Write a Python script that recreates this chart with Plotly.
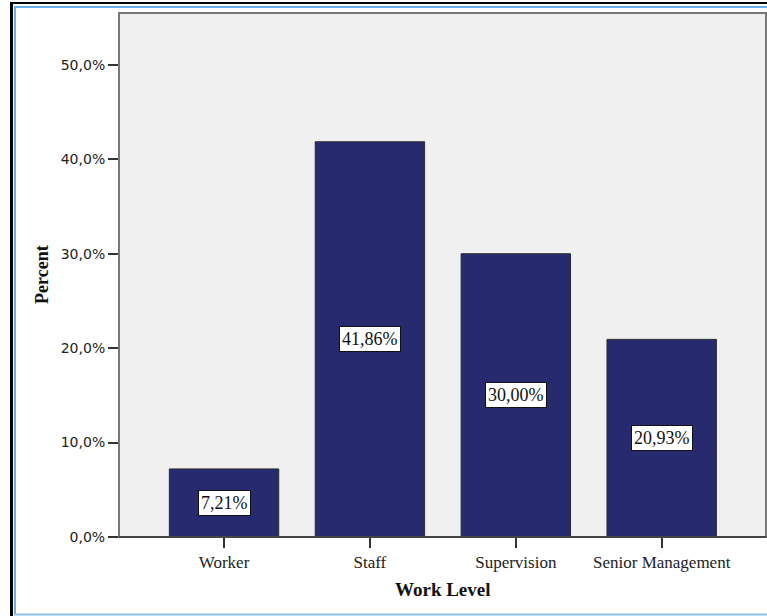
import plotly.graph_objects as go

# Work level distribution (percent of respondents)
levels = ["Worker", "Staff", "Supervision", "Senior Management"]
percents = [7.21, 41.86, 30.00, 20.93]
y_ticks = [0, 10, 20, 30, 40, 50]
y_tick_text = ["0,0%", "10,0%", "20,0%", "30,0%", "40,0%", "50,0%"]

W, H = 767, 616
L, R, T, B = 119, 1, 13, 79
PW, PH = W - L - R, H - T - B


def px_x(p):
    return (p - L) / PW


def px_y(p):
    return (H - B - p) / PH


fig = go.Figure()
fig.add_trace(go.Bar(
    x=levels,
    y=percents,
    marker=dict(color="#282A70", line=dict(color="#2b2b2b", width=1)),
    width=0.75,
    hoverinfo="skip",
))

# boxed value labels in the middle of each bar
for lv, v in zip(levels, percents):
    fig.add_annotation(
        x=lv, y=v / 2, xref="x", yref="y",
        text=f"{v:.2f}".replace(".", ",") + "%",
        showarrow=False,
        font=dict(family="Liberation Serif", size=18, color="#111111"),
        bgcolor="white", bordercolor="#111111", borderwidth=1, borderpad=2,
    )

# axis titles
fig.add_annotation(
    x=px_x(42), y=0.5, xref="paper", yref="paper",
    xanchor="center", yanchor="middle",
    text="<b>Percent</b>", textangle=-90, showarrow=False,
    font=dict(family="Liberation Serif", size=18, color="#111111"),
)
fig.add_annotation(
    x=0.5, y=px_y(589), xref="paper", yref="paper",
    xanchor="center", yanchor="middle",
    text="<b>Work Level</b>", showarrow=False,
    font=dict(family="Liberation Serif", size=19, color="#111111"),
)

shapes = [
    # plot frame
    dict(type="rect", xref="paper", yref="paper", x0=0, x1=1, y0=0, y1=1,
         line=dict(color="#777777", width=2), layer="above"),
    # baseline
    dict(type="line", xref="paper", yref="paper", x0=0, x1=1, y0=0, y1=0,
         line=dict(color="#333333", width=1.5), layer="above"),
    # outer window borders
    dict(type="line", xref="paper", yref="paper", x0=px_x(11.5), x1=px_x(11.5),
         y0=px_y(2), y1=px_y(616), line=dict(color="black", width=3)),
    dict(type="line", xref="paper", yref="paper", x0=px_x(10), x1=px_x(767),
         y0=px_y(3), y1=px_y(3), line=dict(color="black", width=2)),
    dict(type="line", xref="paper", yref="paper", x0=px_x(15), x1=px_x(15),
         y0=px_y(6.5), y1=px_y(615), line=dict(color="#6aaee8", width=2)),
    dict(type="line", xref="paper", yref="paper", x0=px_x(14), x1=px_x(767),
         y0=px_y(7), y1=px_y(7), line=dict(color="#6aaee8", width=2)),
    dict(type="line", xref="paper", yref="paper", x0=px_x(14), x1=px_x(767),
         y0=px_y(614.5), y1=px_y(614.5), line=dict(color="#8ec0ea", width=2)),
]

fig.update_layout(
    width=W, height=H,
    margin=dict(l=L, r=R, t=T, b=B, pad=0),
    paper_bgcolor="white",
    plot_bgcolor="#F0F0F0",
    showlegend=False,
    shapes=shapes,
    bargap=0.25,
)
fig.update_xaxes(
    range=[-0.72, 3.715],
    showgrid=False, zeroline=False, showline=False,
    ticks="outside", ticklen=10, tickwidth=1.5, tickcolor="#333333",
    tickfont=dict(family="Liberation Serif", size=17, color="#222222"),
    ticklabelstandoff=0,
    fixedrange=True,
)
fig.update_yaxes(
    range=[0, 55.5],
    tickvals=y_ticks, ticktext=y_tick_text,
    showgrid=False, zeroline=False, showline=False,
    ticks="outside", ticklen=10, tickwidth=1.5, tickcolor="#333333",
    tickfont=dict(family="DejaVu Sans", size=14, color="#222222"),
    fixedrange=True,
)

fig.write_html("out.html")
